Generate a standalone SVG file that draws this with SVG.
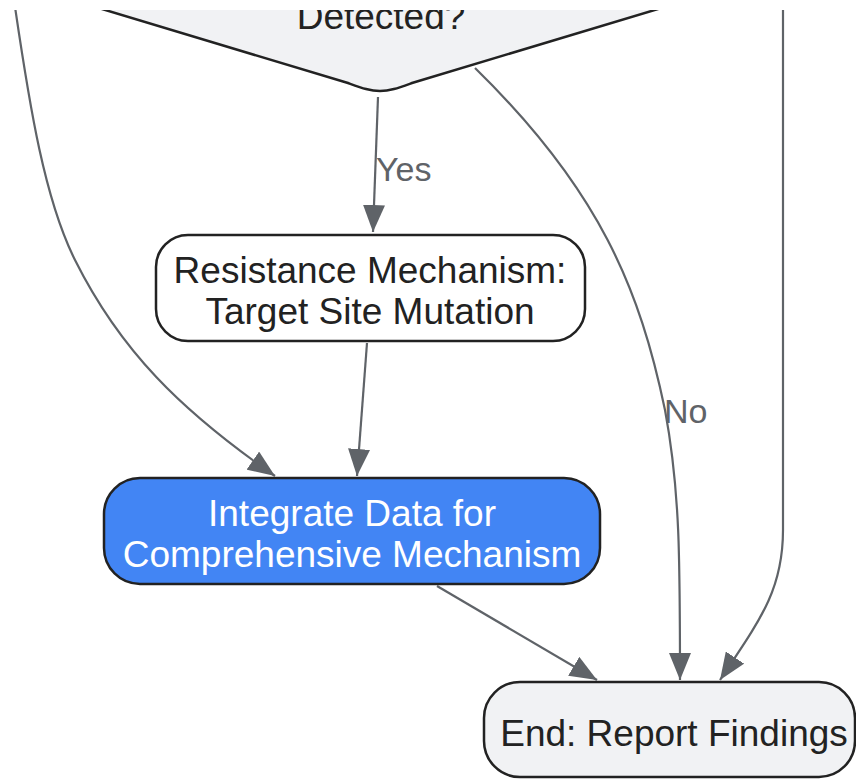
<svg xmlns="http://www.w3.org/2000/svg" width="856" height="779" viewBox="0 0 856 779">
<defs>
<style>
.node-text{font-family:"Liberation Sans",Arial,sans-serif;font-size:37px;fill:#222;text-anchor:middle}
.lbl{font-family:"Liberation Sans",Arial,sans-serif;font-size:34px;fill:#5f6368}
.edge{fill:none;stroke:#5f6368;stroke-width:2.2}
.box{stroke:#222;stroke-width:2.5}
</style>
<marker id="arr" markerUnits="userSpaceOnUse" markerWidth="28" markerHeight="22" refX="27" refY="11" orient="auto">
<path d="M0,0 L27,11 L0,22 z" fill="#5f6368"/>
</marker>
<clipPath id="clip"><rect x="0" y="10" width="856" height="769"/></clipPath>
</defs>
<rect width="856" height="779" fill="#fff"/>
<g clip-path="url(#clip)">
<g id="connectors">
<path class="edge" d="M378,97 L373,232" marker-end="url(#arr)"/>
<path class="edge" d="M367,343 L357,476" marker-end="url(#arr)"/>
<path class="edge" d="M14,0 C30,110 45,200 75,260 C120,350 180,410 275,476" marker-end="url(#arr)"/>
<path class="edge" d="M475,68 C600,190 640,290 665,410 C680,490 680,560 680,680" marker-end="url(#arr)"/>
<path class="edge" d="M783,0 L783,530 C783,590 760,620 720,680" marker-end="url(#arr)"/>
<path class="edge" d="M437,586 L597,680" marker-end="url(#arr)"/>
<text class="lbl" x="376" y="181">Yes</text>
<text class="lbl" x="664" y="423">No</text>
</g>
<g id="decision">
<path class="box" d="M72,0 L348,83 C362,88 370,91 380,91 C390,91 398,88 412,83 L688,0 Z" fill="#f1f2f4"/>
<text class="node-text" x="381" y="29">Detected?</text>
</g>
<g id="resistance">
<rect class="box" x="156" y="235" width="429" height="106" rx="32" fill="#fff"/>
<text class="node-text" x="370" y="283">Resistance Mechanism:</text>
<text class="node-text" x="370" y="324">Target Site Mutation</text>
</g>
<g id="integrate">
<rect class="box" x="104" y="478" width="496" height="106" rx="36" fill="#4285f4"/>
<text class="node-text" x="352" y="526" style="fill:#fff">Integrate Data for</text>
<text class="node-text" x="352" y="567" style="fill:#fff">Comprehensive Mechanism</text>
</g>
<g id="end">
<rect class="box" x="484" y="682" width="371" height="95" rx="36" fill="#f1f2f4"/>
<text class="node-text" x="674" y="746">End: Report Findings</text>
</g>
</g>
</svg>
